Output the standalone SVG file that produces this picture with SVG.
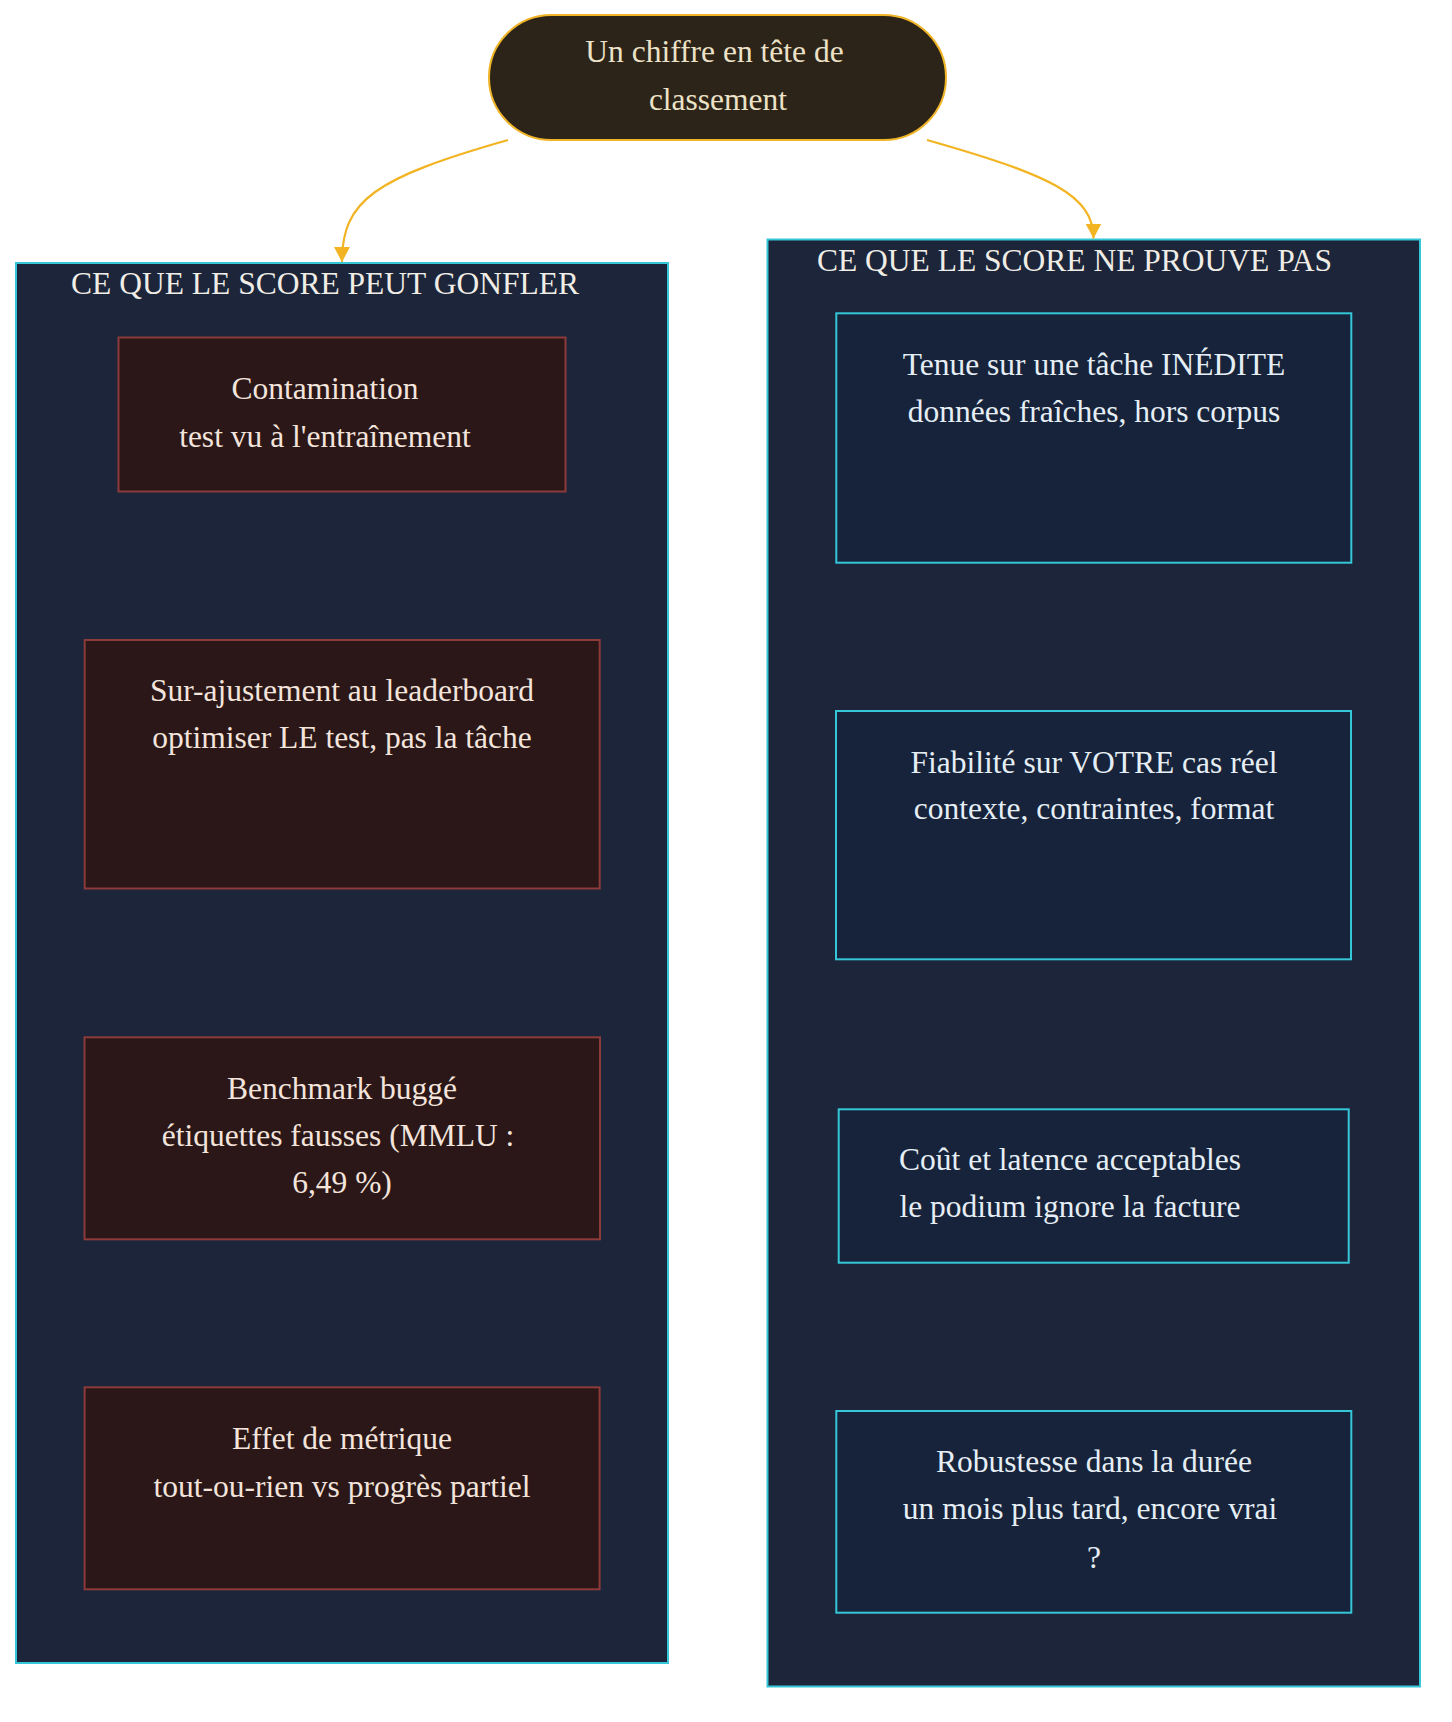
<svg xmlns="http://www.w3.org/2000/svg" width="1452" height="1722" viewBox="0 0 1452 1722">
<defs>
<style>
text{font-family:"Liberation Serif","Times New Roman",serif;font-size:31.5px;text-anchor:middle}
.cluster{fill:#1c2539;stroke:#35c6d8;stroke-width:2}
.bad{fill:#2b1717;stroke:#8c3a3a;stroke-width:2}
.good{fill:#16233a;stroke:#35c6d8;stroke-width:2}
.ctitle{fill:#f0ede6}
.badt{fill:#f3e4dc}
.goodt{fill:#e6eef5}
.edge{fill:none;stroke:#f2b422;stroke-width:2.2}
</style>
<marker id="arr" viewBox="0 0 15 16" refX="15" refY="8" markerWidth="15" markerHeight="16" markerUnits="userSpaceOnUse" orient="auto">
<path d="M0,0 L15,8 L0,16 z" fill="#f2b422"/>
</marker>
</defs>
<rect width="1452" height="1722" fill="#ffffff"/>

<g id="cluster-left">
<rect class="cluster" x="16" y="263" width="652" height="1400"/>
<text class="ctitle" x="325" y="294">CE QUE LE SCORE PEUT GONFLER</text>
</g>
<g id="cluster-right">
<rect class="cluster" x="767.5" y="239.5" width="652.5" height="1447"/>
<text class="ctitle" x="1074.5" y="271">CE QUE LE SCORE NE PROUVE PAS</text>
</g>

<g id="connectors">
<path class="edge" d="M508,140 C375,178 342,200 342,262" marker-end="url(#arr)"/>
<path class="edge" d="M927,140 C1050,175 1093.5,195 1093.5,238.5" marker-end="url(#arr)"/>
</g>

<g id="top">
<rect x="489" y="15" width="457" height="125" rx="62.5" ry="62.5" fill="#2c2418" stroke="#f0b429" stroke-width="2"/>
<text fill="#ece2c8" x="714.5" y="62">Un chiffre en tête de</text>
<text fill="#ece2c8" x="718" y="110">classement</text>
</g>

<g id="contamination">
<rect class="bad" x="118.5" y="337.5" width="447" height="154"/>
<text class="badt" x="325" y="398.5">Contamination</text>
<text class="badt" x="325" y="446.5">test vu à l'entraînement</text>
</g>
<g id="surajustement">
<rect class="bad" x="84.7" y="640" width="515" height="248.5"/>
<text class="badt" x="342" y="701">Sur-ajustement au leaderboard</text>
<text class="badt" x="342" y="748.3">optimiser LE test, pas la tâche</text>
</g>
<g id="benchmark">
<rect class="bad" x="84.5" y="1037.3" width="515.5" height="202"/>
<text class="badt" x="342" y="1099">Benchmark buggé</text>
<text class="badt" x="338" y="1146">étiquettes fausses (MMLU :</text>
<text class="badt" x="342" y="1193.3">6,49 %)</text>
</g>
<g id="metrique">
<rect class="bad" x="84.6" y="1387.3" width="515" height="202"/>
<text class="badt" x="342" y="1449.3">Effet de métrique</text>
<text class="badt" x="342" y="1496.7">tout-ou-rien vs progrès partiel</text>
</g>

<g id="inedite">
<rect class="good" x="836.3" y="313.3" width="515" height="249.4"/>
<text class="goodt" x="1094" y="375">Tenue sur une tâche INÉDITE</text>
<text class="goodt" x="1094" y="422.3">données fraîches, hors corpus</text>
</g>
<g id="fiabilite">
<rect class="good" x="836" y="711" width="515" height="248.3"/>
<text class="goodt" x="1094" y="772.7">Fiabilité sur VOTRE cas réel</text>
<text class="goodt" x="1094" y="819.3">contexte, contraintes, format</text>
</g>
<g id="cout">
<rect class="good" x="838.7" y="1109.3" width="510" height="153.4"/>
<text class="goodt" x="1070" y="1170">Coût et latence acceptables</text>
<text class="goodt" x="1070" y="1216.7">le podium ignore la facture</text>
</g>
<g id="robustesse">
<rect class="good" x="836.3" y="1411" width="515" height="201.7"/>
<text class="goodt" x="1094" y="1472.3">Robustesse dans la durée</text>
<text class="goodt" x="1090" y="1519.3">un mois plus tard, encore vrai</text>
<text class="goodt" x="1094" y="1567.7">?</text>
</g>
</svg>
